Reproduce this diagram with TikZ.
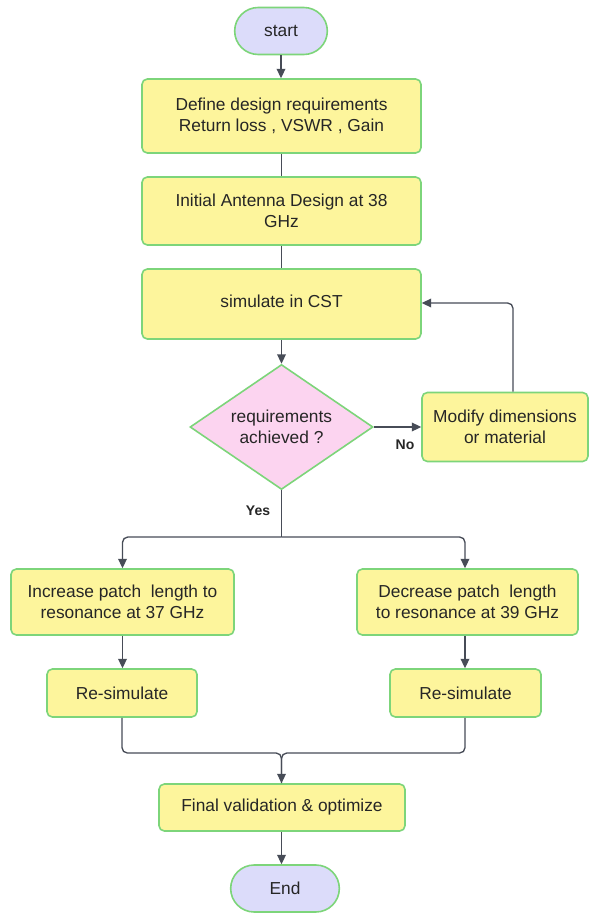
\documentclass[tikz,border=0pt]{standalone}
\usepackage{fontspec}
\setmainfont{Liberation Sans}
\usetikzlibrary{shapes.geometric,shapes.misc,arrows.meta}
\definecolor{boxfill}{HTML}{FDF59C}
\definecolor{boxline}{HTML}{7DD57A}
\definecolor{termfill}{HTML}{DCDCFA}
\definecolor{diafill}{HTML}{FCD4F0}
\definecolor{arrowcol}{HTML}{474C57}
\definecolor{textcol}{HTML}{262626}
\tikzset{
  procbox/.style={draw=boxline, fill=boxfill, line width=1.2pt, rounded corners=4pt,
    align=center, inner sep=2pt, font=\fontsize{13}{15.75}\selectfont, text=textcol},
  termbox/.style={draw=boxline, fill=termfill, line width=1.2pt, rounded rectangle,
    align=center, inner sep=2pt, font=\fontsize{13}{15.75}\selectfont, text=textcol},
  decbox/.style={draw=boxline, fill=diafill, line width=1.2pt, diamond, shape aspect=1.464,
    align=center, inner sep=0pt, font=\fontsize{13}{15.75}\selectfont, text=textcol},
  flow/.style={draw=arrowcol, line width=1pt, rounded corners=4pt,
    -{Triangle[width=6.5pt,length=7pt]}},
  plainflow/.style={draw=arrowcol, line width=1pt, rounded corners=4pt},
  lbl/.style={font=\bfseries\fontsize{10.5}{12}\selectfont, text=textcol}
}
\begin{document}
\begin{tikzpicture}[x=0.75pt,y=-0.75pt]
\useasboundingbox (0,0) rectangle (593,916);
\node[termbox, minimum width=73.5pt, minimum height=35.25pt] (start) at (281,31) {start};
\node[procbox, minimum width=209.25pt, minimum height=55.5pt] (def) at (281.5,116) {Define design requirements\\Return loss , VSWR , Gain};
\node[procbox, minimum width=209.25pt, minimum height=51pt] (init) at (281.5,211) {Initial Antenna Design at 38\\GHz};
\node[procbox, minimum width=209.25pt, minimum height=52.5pt] (sim) at (281.5,304) {};
\node[font=\fontsize{13}{15.75}\selectfont, text=textcol] (simtxt) at (281.5,301) {simulate in CST};
\node[decbox, minimum width=137.25pt, minimum height=93.75pt] (dec) at (281.5,427) {requirements\\achieved ?};
\node[procbox, minimum width=124.5pt, minimum height=51.75pt] (mod) at (505,427) {Modify dimensions\\or material};
\node[procbox, minimum width=167.25pt, minimum height=49.5pt] (inc) at (122.5,602) {Increase patch\ \ length to\\resonance at 37 GHz};
\node[procbox, minimum width=165.75pt, minimum height=49.5pt] (decr) at (467.5,602) {Decrease patch\ \ length\\to resonance at 39 GHz};
\node[procbox, minimum width=112.5pt, minimum height=36pt] (rl) at (122,693) {Re-simulate};
\node[procbox, minimum width=113.25pt, minimum height=36pt] (rr) at (465.5,693) {Re-simulate};
\node[procbox, minimum width=184.5pt, minimum height=35.25pt] (fin) at (282,807.5) {Final validation \& optimize};
\node[termbox, minimum width=85.5pt, minimum height=35.25pt] (end) at (285,888.5) {End};
\coordinate (split) at (281.5,537);
\coordinate (merge) at (281.5,753);
\draw[flow] (start.south) -- (start.south |- def.north);
\draw[plainflow] (def.south -| init.north) -- (init.north);
\draw[plainflow] (init.south) -- (sim.north);
\draw[flow] (sim.south) -- (dec.north);
\draw[flow] (dec.east) -- (mod.west);
\draw[flow] (mod.north -| 513,0) -- (513,303) -- (sim.east |- 0,303);
\draw[plainflow] (dec.south) -- (split);
\draw[flow] (split) -- (122.5,537) -- (inc.north);
\draw[flow] (split) -- (465,537) -- (decr.north -| 465,0);
\draw[flow] (inc.south) -- (rl.north -| inc.south);
\draw[flow] (decr.south -| 465,0) -- (rr.north -| 465,0);
\draw[plainflow] (rl.south) -- (122,753) -- (merge) -- (fin.north -| merge);
\draw[flow] (rr.south -| 465,0) -- (465,753) -- (merge) -- (fin.north -| merge);
\draw[flow] (fin.south -| merge) -- (end.north -| merge);
\node[lbl] (no) at (405,445) {No};
\node[lbl] (yes) at (258,511) {Yes};
\end{tikzpicture}
\end{document}
